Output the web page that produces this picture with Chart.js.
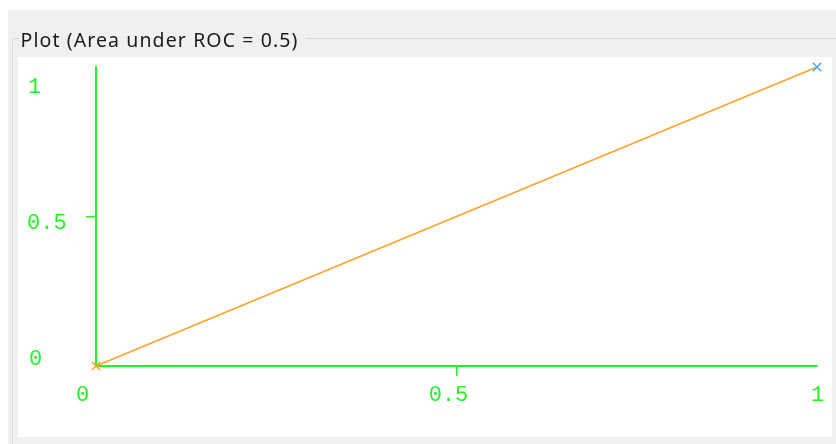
<!DOCTYPE html>
<html>
<head>
<meta charset="utf-8">
<title>ROC plot</title>
<script src="https://cdn.jsdelivr.net/npm/chart.js@4/dist/chart.umd.min.js"></script>
<style>
  html, body { margin: 0; padding: 0; background: #ffffff; }
  #roc { display: block; }
</style>
</head>
<body>
<canvas id="roc" width="836" height="444"></canvas>
<script>
// ROC curve points (false positive rate, true positive rate)
const areaUnderRoc = 0.5;
const fpr = [0, 1];
const tpr = [0, 1];

// Axis ticks
const tickValues = [0, 0.5, 1];
const xTickLabels = ['0', '0.5', '1'];
const yTickLabels = ['0', '0.5', '1'];

const titleText = 'Plot (Area under ROC = ' + areaUnderRoc + ')';

const axisColor = '#22f522';
const lineColor = '#ffa22e';
const markerColors = ['#ffa22e', '#4fa6ee'];

// Small per-label nudges so labels sit like the plot panel's own text
const xLabelShift = [-13.5, -8, 0.5];
const yLabelX = [29, 27, 28];
const yLabelBaselineShift = [-1, 12.5, 25.5];

// Window frame: grey dialog background, group box and white plot panel
const framePlugin = {
  id: 'frame',
  beforeDraw(chart) {
    const c = chart.ctx;
    c.save();
    c.fillStyle = '#ffffff';
    c.fillRect(0, 0, chart.width, chart.height);
    c.fillStyle = '#f0f0f0';
    c.fillRect(8, 10, chart.width - 8, chart.height - 10);

    // group box outline, interrupted by the caption
    c.strokeStyle = '#d3dbe1';
    c.lineWidth = 1;
    c.beginPath();
    c.moveTo(19, 38.5);
    c.lineTo(15.5, 38.5);
    c.quadraticCurveTo(12.5, 38.5, 12.5, 41.5);
    c.lineTo(12.5, chart.height);
    c.moveTo(306, 38.5);
    c.lineTo(chart.width, 38.5);
    c.stroke();
    c.strokeStyle = '#f8f9fa';
    c.beginPath();
    c.moveTo(13.5, 42);
    c.lineTo(13.5, chart.height);
    c.stroke();

    // white plot panel
    c.fillStyle = '#ffffff';
    c.fillRect(18, 57, 814, 380);

    // caption
    c.font = '19.5px "Noto Sans", "Open Sans", sans-serif';
    if ('letterSpacing' in c) c.letterSpacing = '1.1px';
    c.fillStyle = '#1a1a22';
    c.textAlign = 'left';
    c.textBaseline = 'alphabetic';
    c.fillText(titleText, 20.5, 46.5);
    c.restore();
  }
};

// Tick labels placed from the scales' own pixel positions
const tickLabelPlugin = {
  id: 'tickLabels',
  afterDraw(chart) {
    const c = chart.ctx;
    const xs = chart.scales.x;
    const ys = chart.scales.y;
    c.save();
    c.font = '22px "Liberation Mono", "DejaVu Sans Mono", monospace';
    c.fillStyle = axisColor;
    c.textBaseline = 'alphabetic';
    const xBase = ys.getPixelForValue(0) + 34.5;
    tickValues.forEach((v, i) => {
      c.textAlign = 'center';
      c.fillText(xTickLabels[i], xs.getPixelForValue(v) + xLabelShift[i], xBase);
      c.textAlign = 'left';
      c.fillText(yTickLabels[i], yLabelX[i], ys.getPixelForValue(v) + yLabelBaselineShift[i]);
    });
    c.restore();
  }
};

const midTickColor = (ctx) => (ctx.tick && ctx.tick.value === 0.5 ? axisColor : 'rgba(0,0,0,0)');

new Chart(document.getElementById('roc'), {
  type: 'scatter',
  data: {
    datasets: [{
      data: fpr.map((x, i) => ({ x: x, y: tpr[i] })),
      showLine: true,
      borderColor: lineColor,
      borderWidth: 1.8,
      tension: 0,
      pointStyle: 'crossRot',
      pointRadius: 6,
      pointBorderWidth: 1.5,
      pointBorderColor: markerColors,
      pointBackgroundColor: markerColors,
      clip: false
    }]
  },
  options: {
    responsive: false,
    animation: false,
    events: [],
    devicePixelRatio: 1,
    layout: { padding: { left: 96, right: 19, top: 67, bottom: 78 } },
    plugins: {
      legend: { display: false },
      tooltip: { enabled: false },
      title: { display: false }
    },
    scales: {
      x: {
        type: 'linear',
        min: 0,
        max: 1,
        afterFit(scale) { scale.height = 0; },
        ticks: { display: false, stepSize: 0.5 },
        grid: { drawOnChartArea: false, drawTicks: true, tickLength: 10, lineWidth: 1.5, color: midTickColor },
        border: { color: axisColor, width: 2 }
      },
      y: {
        type: 'linear',
        min: 0,
        max: 1,
        afterFit(scale) { scale.width = 0; },
        ticks: { display: false, stepSize: 0.5 },
        grid: { drawOnChartArea: false, drawTicks: true, tickLength: 10, lineWidth: 1.5, color: midTickColor },
        border: { color: axisColor, width: 2 }
      }
    }
  },
  plugins: [framePlugin, tickLabelPlugin]
});
</script>
</body>
</html>
